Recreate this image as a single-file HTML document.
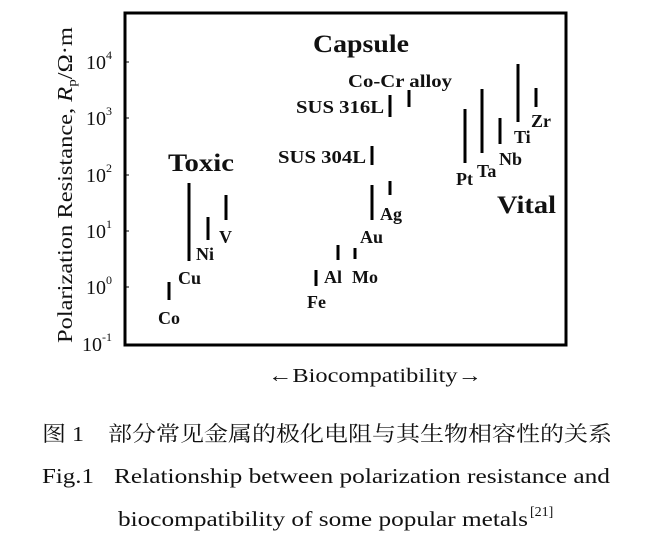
<!DOCTYPE html>
<html><head><meta charset="utf-8"><style>
html,body{margin:0;padding:0;background:#fff;}
svg{display:block;}
</style></head><body>
<svg width="648" height="541" viewBox="0 0 648 541" xmlns="http://www.w3.org/2000/svg" font-family="'Liberation Serif','Times New Roman',Times,serif">
<rect x="125" y="13" width="441" height="332" fill="none" stroke="#000" stroke-width="3"/>
<g stroke="#000" stroke-width="1">
<line x1="126" y1="62" x2="129" y2="62"/><line x1="126" y1="118" x2="129" y2="118"/>
<line x1="126" y1="175" x2="129" y2="175"/><line x1="126" y1="231" x2="129" y2="231"/>
<line x1="126" y1="287" x2="129" y2="287"/>
</g>
<g fill="#111" font-size="20">
<text x="86" y="69">10<tspan font-size="12" dy="-10">4</tspan></text>
<text x="86" y="125">10<tspan font-size="12" dy="-10">3</tspan></text>
<text x="86" y="182">10<tspan font-size="12" dy="-10">2</tspan></text>
<text x="86" y="238">10<tspan font-size="12" dy="-10">1</tspan></text>
<text x="86" y="294">10<tspan font-size="12" dy="-10">0</tspan></text>
<text x="82" y="351">10<tspan font-size="12" dy="-10">-1</tspan></text>
</g>
<text fill="#111" font-size="21" transform="translate(72,343) rotate(-90)" textLength="316" lengthAdjust="spacingAndGlyphs">Polarization Resistance, <tspan font-style="italic">R</tspan><tspan font-size="13" dy="4">p</tspan><tspan dy="-4">/Ω·m</tspan></text>
<g stroke="#000" stroke-width="3">
<line x1="169" y1="282" x2="169" y2="300"/>
<line x1="189" y1="183" x2="189" y2="261"/>
<line x1="208" y1="217" x2="208" y2="240"/>
<line x1="226" y1="195" x2="226" y2="220"/>
<line x1="316" y1="270" x2="316" y2="286"/>
<line x1="338" y1="245" x2="338" y2="260"/>
<line x1="355" y1="248" x2="355" y2="259"/>
<line x1="372" y1="185" x2="372" y2="220"/>
<line x1="390" y1="181" x2="390" y2="195"/>
<line x1="372" y1="146" x2="372" y2="165"/>
<line x1="390" y1="95" x2="390" y2="117"/>
<line x1="409" y1="90" x2="409" y2="107"/>
<line x1="465" y1="109" x2="465" y2="163"/>
<line x1="482" y1="89" x2="482" y2="153"/>
<line x1="500" y1="118" x2="500" y2="144"/>
<line x1="518" y1="64" x2="518" y2="122"/>
<line x1="536" y1="88" x2="536" y2="107"/>
</g>
<g fill="#111" font-weight="bold" font-size="18">
<text x="158" y="324">Co</text>
<text x="178" y="284">Cu</text>
<text x="196" y="260">Ni</text>
<text x="219" y="243">V</text>
<text x="307" y="308">Fe</text>
<text x="324" y="283">Al</text>
<text x="352" y="283">Mo</text>
<text x="360" y="243">Au</text>
<text x="380" y="220">Ag</text>
<text x="278" y="163" textLength="88" lengthAdjust="spacingAndGlyphs">SUS 304L</text>
<text x="296" y="113" textLength="88" lengthAdjust="spacingAndGlyphs">SUS 316L</text>
<text x="348" y="87" textLength="104" lengthAdjust="spacingAndGlyphs">Co-Cr alloy</text>
<text x="456" y="185">Pt</text>
<text x="477" y="177">Ta</text>
<text x="499" y="165">Nb</text>
<text x="514" y="143">Ti</text>
<text x="531" y="127">Zr</text>
</g>
<g fill="#111" font-weight="bold" font-size="25">
<text x="168" y="171" textLength="66" lengthAdjust="spacingAndGlyphs">Toxic</text>
<text x="313" y="52" textLength="96" lengthAdjust="spacingAndGlyphs">Capsule</text>
<text x="497" y="213" textLength="59" lengthAdjust="spacingAndGlyphs">Vital</text>
</g>
<text fill="#111" font-size="20" x="268" y="382" textLength="214" lengthAdjust="spacingAndGlyphs">←Biocompatibility→</text>
<text x="42" y="441" font-size="21" fill="#111" font-family="'Liberation Serif','Noto Serif CJK SC',serif" textLength="570" lengthAdjust="spacingAndGlyphs">图 1　部分常见金属的极化电阻与其生物相容性的关系</text>
<text fill="#111" font-size="21" x="42" y="483" textLength="52" lengthAdjust="spacingAndGlyphs">Fig.1</text>
<text fill="#111" font-size="21" x="114" y="483" textLength="496" lengthAdjust="spacingAndGlyphs">Relationship between polarization resistance and</text>
<text fill="#111" font-size="21" x="118" y="526" textLength="410" lengthAdjust="spacingAndGlyphs">biocompatibility of some popular metals</text>
<text fill="#111" font-size="14" x="530" y="516">[21]</text>
</svg>
</body></html>
